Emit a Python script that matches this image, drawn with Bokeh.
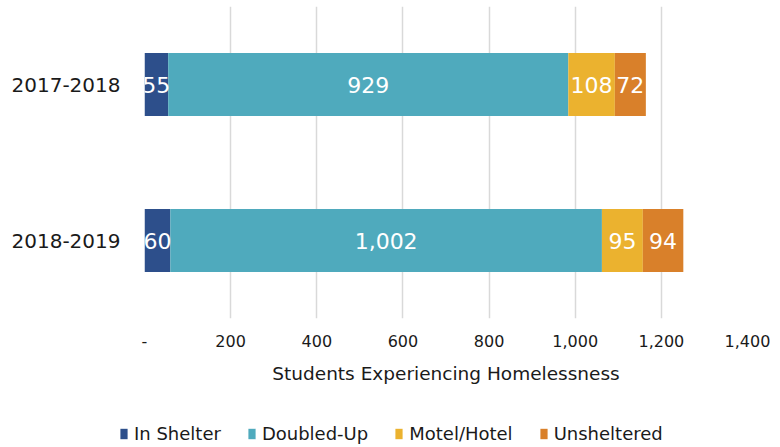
from bokeh.plotting import figure
from bokeh.models import (ColumnDataSource, FactorRange, Range1d, Legend, LegendItem,
                          FixedTicker, NumeralTickFormatter)
from bokeh.core.properties import value
from bokeh.embed import file_html
from bokeh.resources import INLINE

# ---- data ----
years = ["2017-2018", "2018-2019"]
in_shelter = [55, 60]
doubled_up = [929, 1002]
motel_hotel = [108, 95]
unsheltered = [72, 94]
series = ["In Shelter", "Doubled-Up", "Motel/Hotel", "Unsheltered"]
colors = ["#2D4F8B", "#4FAABD", "#EBB22F", "#D9802A"]
x_ticks = [0, 200, 400, 600, 800, 1000, 1200, 1400]
x_title = "Students Experiencing Homelessness"

FONT = "DejaVu Sans"
TXT = "#1a1a1a"
W = 772

values = [in_shelter, doubled_up, motel_hotel, unsheltered]
data = {"year": years}
for name, vals in zip(series, values):
    data[name] = vals
source = ColumnDataSource(data=data)

p = figure(
    y_range=FactorRange(factors=years[::-1], range_padding=0, factor_padding=0),
    x_range=Range1d(0, 1400),
    frame_width=603, frame_height=312,
    min_border_left=144, min_border_right=25, min_border_top=6, min_border_bottom=82,
    output_backend="svg", toolbar_location=None,
    background_fill_color="white", border_fill_color="white",
)
p.outline_line_color = None

renderers = p.hbar_stack(series, y="year", height=0.404, color=colors,
                         line_color=None, source=source)

# labels centred in each segment
lx, ly, lt = [], [], []
for i, y in enumerate(years):
    left = 0
    for vals in values:
        v = vals[i]
        lx.append(left + v / 2)
        ly.append(y)
        lt.append(f"{v:,}")
        left += v
p.text(x=lx, y=ly, text=lt, text_align="center", text_baseline="middle",
       text_color="white", text_font=value(FONT), text_font_size="22px")

# axes
p.xaxis.ticker = FixedTicker(ticks=x_ticks)
p.xaxis.formatter = NumeralTickFormatter(format="0,0")
p.xaxis.major_label_overrides = {0: "-"}
p.xaxis.axis_line_color = None
p.xaxis.major_tick_line_color = None
p.xaxis.minor_tick_line_color = None
p.xaxis.major_label_standoff = 10
p.xaxis.major_label_text_font = FONT
p.xaxis.major_label_text_font_size = "16px"
p.xaxis.major_label_text_color = TXT
p.xaxis.axis_label = x_title
p.xaxis.axis_label_text_font = FONT
p.xaxis.axis_label_text_font_size = "18.5px"
p.xaxis.axis_label_text_font_style = "normal"
p.xaxis.axis_label_text_color = TXT
p.xaxis.axis_label_standoff = 13

p.yaxis.axis_line_color = None
p.yaxis.major_tick_line_color = None
p.yaxis.minor_tick_line_color = None
p.yaxis.major_label_standoff = 18
p.yaxis.major_label_text_font = FONT
p.yaxis.major_label_text_font_size = "20px"
p.yaxis.major_label_text_color = TXT

p.xgrid.grid_line_color = "#D9D9D9"
p.xgrid.grid_line_width = 1.5
p.ygrid.grid_line_color = None

# ---- legend strip below the chart (separate root, so not frame-aligned) ----
lg = figure(width=W, height=46, x_range=Range1d(-3000, -2000),
            y_range=FactorRange(factors=years),
            min_border=0, output_backend="svg", toolbar_location=None,
            background_fill_color="white", border_fill_color="white")
lg.outline_line_color = None
lg.axis.visible = False
lg.grid.grid_line_color = None
# same stacked bars, kept outside the visible range; only used for legend swatches
lg_renderers = lg.hbar_stack(series, y="year", height=0.404, color=colors,
                             line_color=None, source=source)
items = [LegendItem(label=s, renderers=[r]) for s, r in zip(series, lg_renderers)]
legend = Legend(items=items, orientation="horizontal", location=(119, 2),
                label_text_font=FONT, label_text_font_size="18px", label_text_color=TXT,
                glyph_width=9, glyph_height=13, label_standoff=6, spacing=26,
                padding=0, margin=0, border_line_color=None, background_fill_alpha=0)
lg.add_layout(legend, "center")

open("out.html", "w").write(file_html((p, lg), INLINE))
